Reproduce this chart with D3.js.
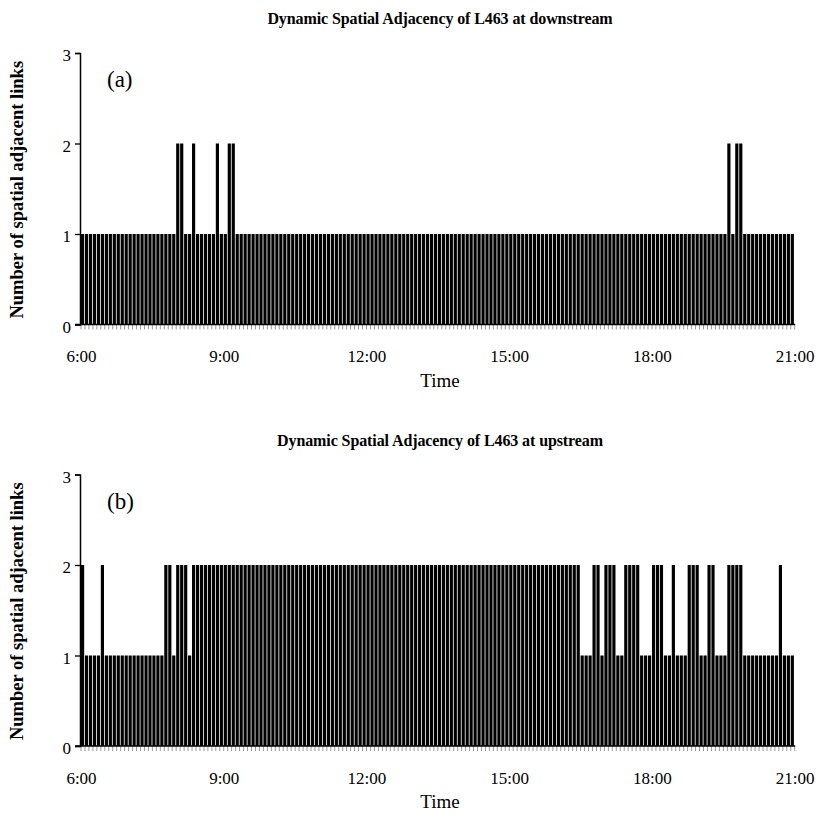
<!DOCTYPE html>
<html>
<head>
<meta charset="utf-8">
<script src="https://cdn.jsdelivr.net/npm/d3@7"></script>
<style>
  body { margin: 0; background: #fff; }
  svg { display: block; }
  text { font-family: "Liberation Serif", "Times New Roman", serif; fill: #000; }
</style>
</head>
<body>
<svg id="chart" width="820" height="818"></svg>
<script>
// ---- Data: number of spatially adjacent links per 5-minute interval, 6:00-21:00 ----
const downstream = [
  1,1,1,1,1,1,1,1,1,1,1,1,   // 6:00
  1,1,1,1,1,1,1,1,1,1,1,1,   // 7:00
  2,2,1,1,2,1,1,1,1,1,2,1,   // 8:00
  1,2,2,1,1,1,1,1,1,1,1,1,   // 9:00
  1,1,1,1,1,1,1,1,1,1,1,1,   // 10:00
  1,1,1,1,1,1,1,1,1,1,1,1,   // 11:00
  1,1,1,1,1,1,1,1,1,1,1,1,   // 12:00
  1,1,1,1,1,1,1,1,1,1,1,1,   // 13:00
  1,1,1,1,1,1,1,1,1,1,1,1,   // 14:00
  1,1,1,1,1,1,1,1,1,1,1,1,   // 15:00
  1,1,1,1,1,1,1,1,1,1,1,1,   // 16:00
  1,1,1,1,1,1,1,1,1,1,1,1,   // 17:00
  1,1,1,1,1,1,1,1,1,1,1,1,   // 18:00
  1,1,1,1,1,1,1,2,1,2,2,1,   // 19:00
  1,1,1,1,1,1,1,1,1,1,1,1    // 20:00
];
const upstream = [
  2,1,1,1,1,2,1,1,1,1,1,1,   // 6:00
  1,1,1,1,1,1,1,1,1,2,2,1,   // 7:00
  2,2,2,1,2,2,2,2,2,2,2,2,   // 8:00
  2,2,2,2,2,2,2,2,2,2,2,2,   // 9:00
  2,2,2,2,2,2,2,2,2,2,2,2,   // 10:00
  2,2,2,2,2,2,2,2,2,2,2,2,   // 11:00
  2,2,2,2,2,2,2,2,2,2,2,2,   // 12:00
  2,2,2,2,2,2,2,2,2,2,2,2,   // 13:00
  2,2,2,2,2,2,2,2,2,2,2,2,   // 14:00
  2,2,2,2,2,2,2,2,2,2,2,2,   // 15:00
  2,2,2,2,2,2,1,1,1,2,2,1,   // 16:00
  2,2,2,1,1,2,2,2,2,1,1,1,   // 17:00
  2,2,2,1,1,2,1,1,1,2,2,2,   // 18:00
  1,1,2,2,1,1,1,2,2,2,2,1,   // 19:00
  1,1,1,1,1,1,1,1,2,1,1,1    // 20:00
];
const xTickLabels = ["6:00", "9:00", "12:00", "15:00", "18:00", "21:00"];
const yTickValues = [0, 1, 2, 3];
const panelTitles = ["Dynamic Spatial Adjacency of L463 at downstream",
                     "Dynamic Spatial Adjacency of L463 at upstream"];
const panelLetters = ["(a)", "(b)"];
const yTitle = "Number of spatial adjacent links";
const xTitle = "Time";

// ---- Drawing ----
const svg = d3.select("#chart");
const parse = d3.timeParse("%H:%M");
const t0 = parse("6:00"), t1 = parse("21:00");
const slotMin = 5;

const x = d3.scaleTime().domain([t0, t1]).range([81, 794.7]);

const panels = [
  { data: downstream, y0: 324.5, y3: 53, titleY: 24, title: panelTitles[0], letter: panelLetters[0] },
  { data: upstream,   y0: 746,   y3: 474.5, titleY: 446, title: panelTitles[1], letter: panelLetters[1] }
];

panels.forEach(p => {
  const y = d3.scaleLinear().domain([0, 3]).range([p.y0, p.y3]);
  const g = svg.append("g");
  const times = p.data.map((d, i) => d3.timeMinute.offset(t0, i * slotMin));
  const slotW = x(d3.timeMinute.offset(t0, slotMin)) - x(t0);

  // title
  g.append("text")
    .attr("x", 440).attr("y", p.titleY)
    .attr("text-anchor", "middle")
    .attr("font-size", 16).attr("font-weight", "bold")
    .attr("letter-spacing", -0.1)
    .text(p.title);

  // bars
  g.append("g").selectAll("rect")
    .data(p.data)
    .join("rect")
    .attr("x", (d, i) => x(times[i]))
    .attr("width", slotW * 0.8)
    .attr("y", d => y(d))
    .attr("height", d => y(0) - y(d))
    .attr("fill", "#000");

  // minor gray ticks at each slot boundary
  const boundaries = d3.range(p.data.length + 1).map(i => d3.timeMinute.offset(t0, i * slotMin));
  g.append("g").selectAll("line")
    .data(boundaries)
    .join("line")
    .attr("x1", d => x(d)).attr("x2", d => x(d))
    .attr("y1", y(0)).attr("y2", y(0) + 5)
    .attr("stroke", "#9a9a9a").attr("stroke-width", 1);

  // x axis baseline
  g.append("line")
    .attr("x1", 75).attr("x2", x(t1) + 0.5)
    .attr("y1", y(0)).attr("y2", y(0))
    .attr("stroke", "#000").attr("stroke-width", 1.3);

  // x tick labels
  const xAxis = d3.axisBottom(x)
    .tickValues(xTickLabels.map(parse))
    .tickFormat(d => d3.timeFormat("%-H:%M")(d))
    .tickSize(0).tickPadding(0);
  const xa = g.append("g").attr("transform", `translate(0,${y(0) + 32})`).call(xAxis);
  xa.select(".domain").remove();
  xa.selectAll("text").attr("font-size", 17).attr("font-family", "Liberation Serif, serif").attr("fill", "#000").attr("dy", "0.35em");

  // y axis
  const yAxis = d3.axisLeft(y).tickValues(yTickValues).tickFormat(d3.format("d")).tickSize(5).tickPadding(4);
  const ya = g.append("g").attr("transform", `translate(80,0)`).call(yAxis);
  ya.select(".domain").attr("stroke", "#000").attr("stroke-width", 1.5);
  ya.selectAll(".tick line").attr("stroke", "#000").attr("stroke-width", 1.3);
  ya.selectAll("text").attr("font-size", 17).attr("font-family", "Liberation Serif, serif").attr("fill", "#000").attr("dy", "0.45em");

  // x title
  g.append("text")
    .attr("x", 440).attr("y", y(0) + 62)
    .attr("text-anchor", "middle")
    .attr("font-size", 19)
    .text(xTitle);

  // y title
  g.append("text")
    .attr("transform", `translate(23,${(y(0) + y(3)) / 2 + 1}) rotate(-90)`)
    .attr("text-anchor", "middle")
    .attr("font-size", 18.5).attr("font-weight", "bold")
    .text(yTitle);

  // panel letter
  g.append("text")
    .attr("x", 107).attr("y", y(3) + 34)
    .attr("font-size", 23)
    .text(p.letter);
});
</script>
</body>
</html>
